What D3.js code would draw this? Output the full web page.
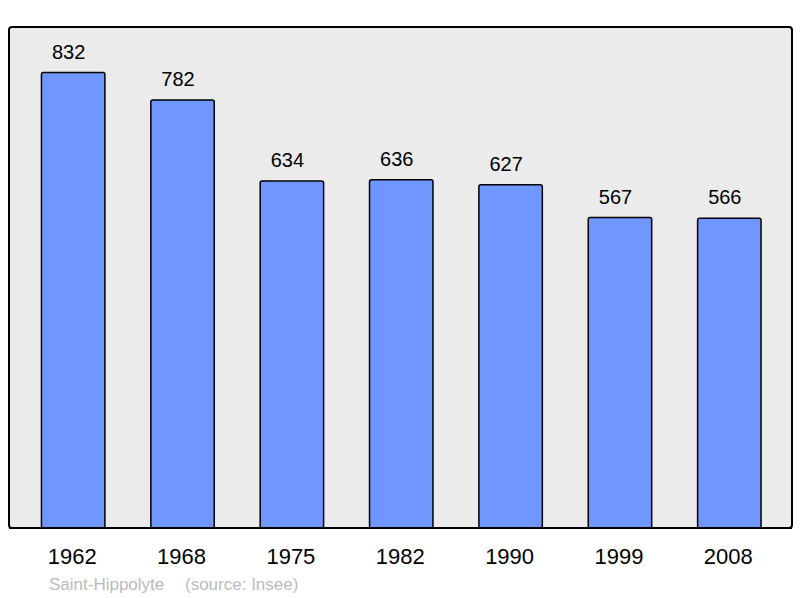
<!DOCTYPE html>
<html>
<head>
<meta charset="utf-8">
<script src="https://cdn.jsdelivr.net/npm/d3@7"></script>
<style>
  body { margin: 0; background: #fff; }
  text { font-family: "Liberation Sans", Arial, sans-serif; }
</style>
</head>
<body>
<script>
// population data
var years = ["1962", "1968", "1975", "1982", "1990", "1999", "2008"];
var population = [832, 782, 634, 636, 627, 567, 566];
var townName = "Saint-Hippolyte";
var sourceText = "(source: Insee)";

var WIDTH = 800, HEIGHT = 598;
var FRAME = { left: 9, top: 27, right: 792, bottom: 528 };

var svg = d3.select("body").append("svg")
    .attr("width", WIDTH)
    .attr("height", HEIGHT);

// background frame
svg.append("rect")
    .attr("x", FRAME.left)
    .attr("y", FRAME.top)
    .attr("width", FRAME.right - FRAME.left)
    .attr("height", FRAME.bottom - FRAME.top)
    .attr("rx", 3)
    .attr("fill", "#ebebeb")
    .attr("stroke", "#000")
    .attr("stroke-width", 2);

var xScale = d3.scaleBand()
    .domain(years)
    .range([18.5, 784])
    .paddingInner(0.42)
    .paddingOuter(0.21);

var yScale = d3.scaleLinear()
    .domain([0, d3.max(population) * 1.1])
    .range([FRAME.bottom, FRAME.top]);

var bars = svg.selectAll(".bar")
    .data(population)
    .enter();

bars.append("rect")
    .attr("class", "bar")
    .attr("x", function(d, i) { return xScale(years[i]); })
    .attr("y", function(d) { return yScale(d); })
    .attr("width", xScale.bandwidth())
    .attr("height", function(d) { return FRAME.bottom - yScale(d); })
    .attr("rx", 2)
    .attr("fill", "#7097ff")
    .attr("stroke", "#000")
    .attr("stroke-width", 1.5);

// value labels (sit a little left of bar centre, like the original)
bars.append("text")
    .attr("x", function(d, i) { return xScale(years[i]) + xScale.bandwidth() / 2 - 4.5; })
    .attr("y", function(d) { return yScale(d) - 14; })
    .attr("text-anchor", "middle")
    .attr("font-size", "20px")
    .attr("fill", "#000")
    .text(function(d) { return d; });

// redraw frame bottom over bars
svg.append("line")
    .attr("x1", FRAME.left)
    .attr("x2", FRAME.right)
    .attr("y1", FRAME.bottom)
    .attr("y2", FRAME.bottom)
    .attr("stroke", "#000")
    .attr("stroke-width", 2);

// year labels
svg.selectAll(".year")
    .data(years)
    .enter()
    .append("text")
    .attr("class", "year")
    .attr("x", function(d) { return xScale(d) + xScale.bandwidth() / 2 - 1; })
    .attr("y", 564)
    .attr("text-anchor", "middle")
    .attr("font-size", "22px")
    .attr("fill", "#000")
    .text(function(d) { return d; });

// footer
svg.append("text")
    .attr("x", 49)
    .attr("y", 590)
    .attr("font-size", "17px")
    .attr("fill", "#bbbbbb")
    .text(townName);

svg.append("text")
    .attr("x", 185)
    .attr("y", 590)
    .attr("font-size", "17px")
    .attr("fill", "#bbbbbb")
    .text(sourceText);
</script>
</body>
</html>
